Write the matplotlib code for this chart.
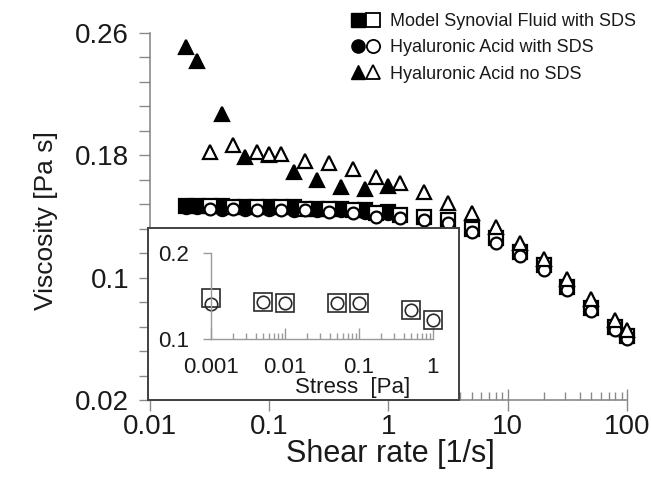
import numpy as np
import matplotlib
matplotlib.use('Agg')
import matplotlib.pyplot as plt
from matplotlib.ticker import FixedLocator, NullFormatter, LogLocator
from matplotlib.legend_handler import HandlerTuple
from matplotlib.lines import Line2D

plt.rcParams['font.family'] = ['Liberation Sans', 'DejaVu Sans']

# ---------------- main plot data ----------------
# Hyaluronic Acid no SDS
tri_f_rate = [0.02, 0.025, 0.04, 0.063, 0.1, 0.16, 0.25, 0.4, 0.63, 1.0]
tri_f_visc = [0.251, 0.242, 0.207, 0.179, 0.180, 0.169, 0.164, 0.159, 0.158, 0.160]
tri_o_rate = [0.0316, 0.05, 0.079, 0.1, 0.126, 0.2, 0.316, 0.5, 0.79, 1.26, 2.0, 3.16,
              5.0, 7.9, 12.6, 20, 31.6, 50, 79, 100]
tri_o_visc = [0.182, 0.187, 0.182, 0.181, 0.181, 0.176, 0.175, 0.171, 0.166, 0.162, 0.156,
              0.149, 0.142, 0.133, 0.123, 0.112, 0.099, 0.086, 0.072, 0.066]

# Model Synovial Fluid with SDS (squares) and Hyaluronic Acid with SDS (circles)
sq_f_rate = [0.02, 0.025, 0.04, 0.063, 0.1, 0.16, 0.25, 0.4, 0.63, 1.0]
sq_f_visc = [0.147, 0.147, 0.147, 0.146, 0.146, 0.146, 0.145, 0.145, 0.144, 0.143]
ci_f_visc = [0.146, 0.146, 0.145, 0.145, 0.145, 0.144, 0.144, 0.144, 0.143, 0.142]

sq_o_rate = [0.0316, 0.05, 0.079, 0.126, 0.2, 0.316, 0.5, 0.79, 1.26, 2.0, 3.16, 5.0,
             7.9, 12.6, 20, 31.6, 50, 79, 100]
sq_o_visc = [0.147, 0.146, 0.146, 0.146, 0.145, 0.145, 0.144, 0.142, 0.141, 0.140, 0.138,
             0.132, 0.126, 0.117, 0.108, 0.094, 0.080, 0.068, 0.062]
ci_o_visc = [0.145, 0.145, 0.144, 0.144, 0.144, 0.143, 0.142, 0.140, 0.139, 0.138, 0.136,
             0.130, 0.123, 0.114, 0.105, 0.092, 0.078, 0.066, 0.060]

x_ticks = [0.01, 0.1, 1, 10, 100]
x_ticklabels = ['0.01', '0.1', '1', '10', '100']
y_ticks = [0.02, 0.1, 0.18, 0.26]
y_ticklabels = ['0.02', '0.1', '0.18', '0.26']

# ---------------- inset data ----------------
stress = [0.001, 0.005, 0.01, 0.05, 0.1, 0.5, 1.0]
in_sq_visc = [0.148, 0.143, 0.1415, 0.142, 0.1415, 0.134, 0.122]
in_ci_visc = [0.141, 0.143, 0.1415, 0.142, 0.1415, 0.134, 0.122]
in_x_ticks = [0.001, 0.01, 0.1, 1]
in_x_ticklabels = ['0.001', '0.01', '0.1', '1']
in_y_ticks = [0.1, 0.2]
in_y_ticklabels = ['0.1', '0.2']

legend_labels = ['Model Synovial Fluid with SDS', 'Hyaluronic Acid with SDS',
                 'Hyaluronic Acid no SDS']

TXT = '#1a1a1a'
SP = '#8a8a8a'

fig = plt.figure(figsize=(6.51, 4.82), dpi=100)
ax = fig.add_axes([0.2304, 0.1701, 0.7327, 0.7614])
ax.set_xscale('log')
ax.set_xlim(0.01, 100)
ax.set_ylim(0.02, 0.26)

mk = dict(linestyle='none', clip_on=False, markeredgecolor='black', markeredgewidth=1.6)
ax.plot(sq_f_rate, sq_f_visc, marker='s', ms=9.5, color='black', zorder=2, **mk)
ax.plot(sq_f_rate, ci_f_visc, marker='o', ms=9.5, color='black', zorder=2, **mk)
ax.plot(tri_f_rate, tri_f_visc, marker='^', ms=10.5, color='black', zorder=2, **mk)
ax.plot(sq_o_rate, sq_o_visc, marker='s', ms=9.5, markerfacecolor='white', zorder=3, **mk)
ax.plot(sq_o_rate, ci_o_visc, marker='o', ms=8.5, markerfacecolor='white', zorder=3, **mk)
ax.plot(tri_o_rate, tri_o_visc, marker='^', ms=10.5, markerfacecolor='white', zorder=3, **mk)

for s in ['top', 'right']:
    ax.spines[s].set_visible(False)
for s in ['left', 'bottom']:
    ax.spines[s].set_color(SP)
    ax.spines[s].set_linewidth(1.2)

ax.set_xticks(x_ticks)
ax.set_xticklabels(x_ticklabels)
ax.xaxis.set_minor_locator(LogLocator(base=10, subs=np.arange(2, 10)))
ax.xaxis.set_minor_formatter(NullFormatter())
ax.set_yticks(y_ticks)
ax.set_yticklabels(y_ticklabels)
ax.yaxis.set_minor_locator(FixedLocator(np.arange(0.02, 0.2601, 0.016)))
ax.tick_params(axis='x', which='major', direction='inout', length=16, width=1.0,
               color=SP, labelsize=20, labelcolor=TXT, pad=2)
ax.tick_params(axis='x', which='minor', direction='in', length=6, width=1.0, color=SP)
ax.tick_params(axis='y', which='both', direction='out', length=8, width=1.0,
               color=SP, labelsize=20, labelcolor=TXT, pad=7)

ax.set_xlabel('Shear rate [1/s]', fontsize=22, color=TXT)
ax.xaxis.set_label_coords(0.503, -0.105)
ax.set_ylabel('Viscosity [Pa s]', fontsize=19, color=TXT)
ax.yaxis.set_label_coords(-0.192, 0.49)

# legend
def pair(marker):
    return (Line2D([], [], marker=marker, ms=9.5, color='black', linestyle='none'),
            Line2D([], [], marker=marker, ms=9.5, markerfacecolor='white',
                   markeredgecolor='black', markeredgewidth=1.3, linestyle='none'))

leg = ax.legend([pair('s'), pair('o'), pair('^')], legend_labels,
                handler_map={tuple: HandlerTuple(ndivide=None, pad=0.15)},
                loc='upper left', bbox_to_anchor=(352 / 651, 1 - 13 / 482),
                bbox_transform=fig.transFigure, frameon=False, fontsize=13,
                handlelength=1.5, handletextpad=0.6, labelspacing=0.52,
                borderaxespad=0, borderpad=0)
for t in leg.get_texts():
    t.set_color(TXT)

# inset frame
frame = fig.add_axes([148 / 651, 1 - 400 / 482, 311 / 651, 172 / 482], zorder=5)
frame.set_facecolor('white')
frame.set_xticks([])
frame.set_yticks([])
for s in frame.spines.values():
    s.set_color('#404040')
    s.set_linewidth(1.4)

# inset axes
ins = fig.add_axes([211 / 651, 1 - 339 / 482, 222 / 651, 86 / 482], zorder=6)
ins.patch.set_alpha(0)
ins.set_xscale('log')
ins.set_xlim(0.001, 1)
ins.set_ylim(0.1, 0.2)
imk = dict(linestyle='none', clip_on=False, markerfacecolor='none',
           markeredgecolor='#2a2a2a', markeredgewidth=1.2)
ins.plot(stress, in_sq_visc, marker='s', ms=13, **imk)
ins.plot(stress, in_ci_visc, marker='o', ms=9, **imk)
for s in ['top', 'right']:
    ins.spines[s].set_visible(False)
for s in ['left', 'bottom']:
    ins.spines[s].set_color('#9a9a9a')
    ins.spines[s].set_linewidth(1.0)
ins.set_xticks(in_x_ticks)
ins.set_xticklabels(in_x_ticklabels)
ins.xaxis.set_minor_locator(LogLocator(base=10, subs=np.arange(2, 10)))
ins.xaxis.set_minor_formatter(NullFormatter())
ins.set_yticks(in_y_ticks)
ins.set_yticklabels(in_y_ticklabels)
ins.tick_params(axis='x', which='major', direction='in', length=8, width=1.0,
                color='#9a9a9a', labelsize=16, labelcolor=TXT, pad=13)
ins.tick_params(axis='x', which='minor', direction='in', length=4, width=1.0, color='#9a9a9a')
ins.tick_params(axis='y', which='major', direction='out', length=6, width=1.0,
                color='#9a9a9a', labelsize=16, labelcolor=TXT, pad=10)
ins.tick_params(axis='y', which='minor', left=False)
fig.text(353 / 651, 1 - 387 / 482, 'Stress  [Pa]', fontsize=16, color=TXT,
         ha='center', va='center', zorder=7)

fig.savefig('out.png', dpi=100)
